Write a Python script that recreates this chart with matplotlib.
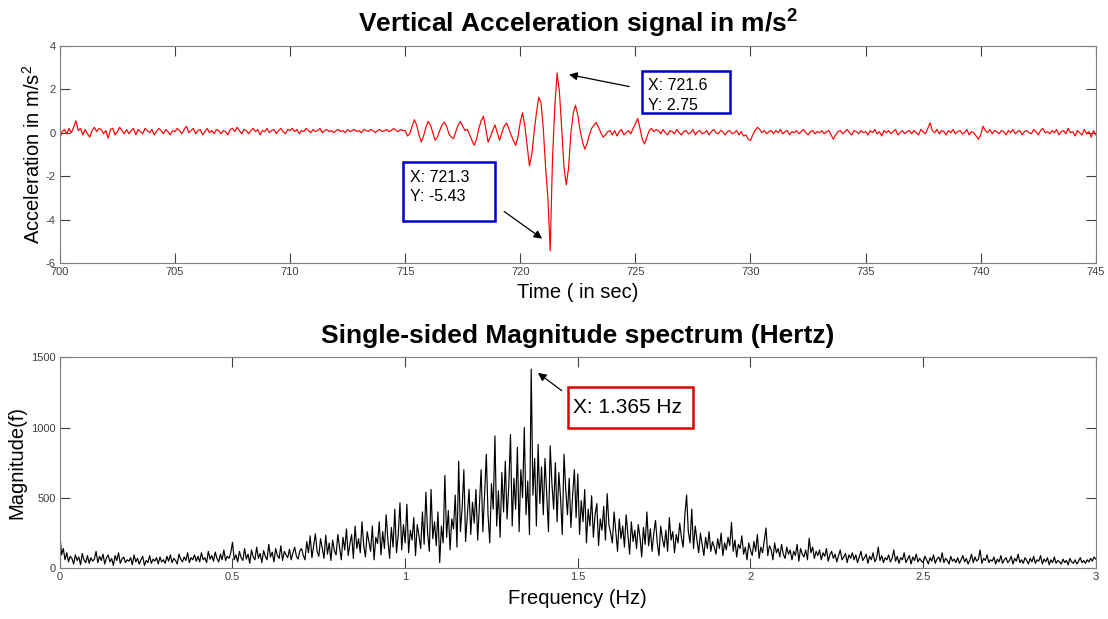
import numpy as np
import matplotlib
matplotlib.use('Agg')
from matplotlib import pyplot as plt
from matplotlib.patches import Rectangle

plt.rcParams['font.family'] = ['Liberation Sans', 'DejaVu Sans']
plt.rcParams['mathtext.fontset'] = 'custom'
plt.rcParams['mathtext.rm'] = 'Liberation Sans'
plt.rcParams['mathtext.bf'] = 'Liberation Sans:bold'
plt.rcParams['axes.unicode_minus'] = False

# acceleration signal, one value every 0.1 s from 700 s to 745 s
accel = [
    -0.25, 0.05, 0.15, -0.05, 0.2, 0.0, 0.25, 0.55, 0.1, 0.2,
    -0.1, 0.15, -0.05, -0.2, 0.1, 0.25, 0.05, 0.2, 0.15, -0.05,
    0.1, -0.25, 0.15, 0.2, -0.1, 0.05, 0.25, 0.1, -0.05, 0.15,
    -0.05, 0.1, 0.2, -0.1, 0.15, 0.05, -0.05, 0.2, 0.1, 0.0,
    0.15, -0.1, 0.05, 0.2, 0.1, -0.05, 0.15, 0.05, -0.1, 0.1,
    0.05, 0.2, 0.1, -0.05, 0.15, 0.3, 0.0, 0.1, 0.2, -0.05,
    0.1, 0.15, -0.1, 0.05, 0.2, 0.0, 0.1, -0.05, 0.15, 0.1,
    -0.05, 0.1, 0.05, -0.1, 0.15, 0.2, 0.05, 0.25, 0.1, -0.05,
    0.15, 0.1, -0.05, 0.1, 0.2, 0.05, 0.15, -0.1, 0.1, 0.05,
    0.2, 0.0, 0.1, 0.15, -0.05, 0.1, 0.2, 0.05, -0.05, 0.15,
    0.1, 0.2, 0.05, 0.15, -0.05, 0.1, 0.05, 0.2, 0.1, 0.0,
    0.15, 0.05, 0.1, 0.2, 0.0, 0.1, 0.15, 0.05, 0.1, 0.0,
    0.1, 0.15, 0.05, 0.1, 0.0, 0.15, 0.05, 0.1, 0.15, 0.05,
    0.1, 0.0, 0.15, 0.1, 0.05, 0.15, 0.1, 0.0, 0.1, 0.15,
    0.05, 0.1, 0.15, 0.05, 0.1, 0.2, 0.1, 0.05, 0.15, 0.1,
    # 715 s: oscillations before the main event
    0.1, -0.15, -0.05, 0.3, 0.6, 0.35, -0.1, -0.43, -0.15, 0.25,
    0.52, 0.35, 0.0, -0.35, -0.2, 0.1, 0.35, 0.49, 0.3, -0.05,
    -0.2, -0.27, 0.05, 0.35, 0.52, 0.3, 0.1, 0.15, -0.1, -0.35,
    -0.58, -0.3, 0.2, 0.55, 0.76, 0.2, -0.43, -0.2, 0.1, 0.36,
    0.0, -0.35, 0.0, 0.3, 0.44, 0.2, -0.1, -0.35, -0.58, -0.2,
    0.5, 0.92, 0.3, -0.6, -1.53, -1.0, 0.0, 0.9, 1.63, 1.4,
    0.2, -1.6, -3.0, -5.43, -1.2, 1.2, 2.75, 1.9, 0.2, -1.6,
    -2.4, -1.6, 0.0, 0.9, 1.26, 0.8, 0.1, -0.4, -0.75, -0.5,
    -0.1, 0.2, 0.35, 0.47, 0.25, 0.0, -0.2, -0.1, 0.05, 0.1,
    -0.1, 0.1, -0.15, 0.05, 0.15, -0.1, 0.0, 0.1, -0.05, 0.2,
    0.4, 0.66, 0.2, -0.3, -0.52, -0.2, 0.1, 0.2, 0.05, 0.15,
    # 726 s onwards
    0.1, -0.05, 0.15, 0.0, -0.1, 0.1, 0.05, -0.05, 0.15, 0.0,
    -0.1, 0.05, 0.1, -0.05, 0.0, 0.15, -0.1, 0.05, 0.1, -0.05,
    0.0, 0.1, -0.1, 0.05, 0.15, 0.0, -0.05, 0.1, 0.05, -0.1,
    0.05, 0.1, -0.05, 0.0, 0.1, -0.1, 0.05, -0.15, -0.1, -0.3,
    -0.36, -0.1, 0.1, 0.25, 0.15, 0.0, 0.1, -0.05, 0.05, 0.1,
    -0.05, 0.1, 0.0, 0.15, -0.05, 0.05, 0.1, -0.1, 0.05, 0.0,
    0.1, -0.05, 0.05, 0.15, 0.0, -0.1, 0.05, 0.1, -0.05, 0.05,
    0.0, 0.1, -0.05, 0.05, 0.1, -0.1, -0.3, -0.1, 0.05, 0.1,
    -0.05, 0.05, 0.15, 0.0, -0.1, 0.1, 0.05, -0.05, 0.1, 0.0,
    0.05, -0.1, 0.1, 0.0, 0.15, -0.05, 0.05, -0.15, 0.1, 0.0,
    0.1, -0.05, 0.05, 0.15, -0.1, 0.0, 0.1, -0.05, 0.05, 0.1,
    -0.05, 0.1, 0.0, -0.1, 0.15, 0.05, -0.05, 0.2, 0.45, 0.1,
    0.0, 0.15, -0.05, 0.1, 0.05, -0.1, 0.1, 0.0, 0.15, -0.05,
    0.05, 0.1, -0.05, 0.0, 0.15, -0.1, 0.05, 0.0, -0.15, -0.3,
    -0.1, 0.3, 0.1, 0.0, 0.15, -0.05, 0.1, 0.05, -0.05, 0.1,
    0.05, -0.1, 0.1, 0.0, 0.15, -0.05, 0.05, 0.1, -0.1, 0.05,
    0.1, 0.0, -0.05, 0.15, 0.05, -0.1, 0.1, 0.2, 0.0, 0.05,
    -0.05, 0.1, 0.0, 0.15, -0.1, 0.05, 0.1, -0.05, 0.2, 0.0,
    0.05, -0.15, 0.1, 0.0, -0.1, 0.15, -0.05, 0.05, -0.2, 0.1,
    -0.1,
]
t = np.linspace(700, 745, len(accel))

# single-sided magnitude spectrum, one value every 0.005 Hz from 0 to 3 Hz
mag = [
    250, 95, 140, 60, 110, 45, 85, 70, 30, 95, 55, 80, 25, 105, 60, 40, 90, 35, 75, 50,
    65, 120, 40, 85, 55, 100, 30, 75, 95, 45, 70, 20, 90, 55, 110, 35, 65, 80, 40, 60,
    50, 75, 25, 95, 45, 70, 30, 60, 85, 20, 55, 40, 90, 35, 65, 50, 75, 30, 80, 45,
    60, 35, 85, 50, 95, 40, 70, 55, 30, 100, 65, 45, 80, 55, 110, 40, 75, 60, 95, 50,
    85, 45, 110, 60, 75, 40, 120, 65, 90, 50, 115, 70, 45, 100, 60, 130, 55, 85, 70, 110,
    185, 60, 95, 45, 120, 75, 55, 140, 65, 100, 35, 130, 80, 60, 150, 70, 105, 40, 125, 85,
    60, 170, 80, 115, 45, 140, 90, 70, 160, 55, 120, 95, 75, 135, 60, 110, 150, 85, 65, 125,
    140, 90, 60, 190, 110, 230, 75, 160, 245, 120, 85, 210, 140, 70, 235, 100, 180, 55, 200, 125,
    95, 240, 150, 60, 220, 130, 280, 90, 175, 240, 70, 300, 140, 210, 110, 330, 160, 80, 260, 190,
    120, 300, 60, 220, 175, 330, 95, 260, 140, 380, 200, 70, 290, 150, 420, 110, 240, 465, 130, 310,
    180, 455, 110, 270, 200, 360, 90, 310, 230, 140, 400, 170, 540, 250, 120, 560, 210, 330, 160, 400,
    40, 300, 180, 660, 220, 410, 130, 350, 280, 520, 150, 760, 260, 430, 700, 190, 380, 560, 240, 470,
    320, 560, 200, 450, 700, 260, 520, 810, 380, 180, 600, 420, 940, 300, 550, 220, 680, 400, 760, 350,
    580, 950, 300, 640, 420, 860, 260, 700, 500, 1000, 380, 620, 240, 1415, 520, 780, 300, 880, 460, 720,
    380, 780, 520, 260, 870, 600, 420, 750, 330, 680, 500, 240, 810, 560, 380, 640, 290, 520, 700, 360,
    670, 240, 480, 330, 560, 180, 420, 300, 515, 220, 380, 460, 160, 350, 270, 440, 200, 530, 310, 250,
    180, 400, 260, 120, 350, 210, 300, 150, 380, 240, 100, 330, 190, 270, 140, 310, 220, 80, 290, 170,
    400, 160, 280, 120, 250, 340, 180, 90, 300, 210, 150, 270, 120, 360, 200, 260, 110, 240, 180, 320,
    220, 150, 380, 520, 260, 180, 420, 140, 300, 200, 110, 250, 170, 90, 220, 140, 260, 120, 190, 150,
    100, 210, 140, 250, 90, 180, 130, 220, 160, 325, 120, 200, 80, 170, 140, 230, 100, 150, 60, 180,
    130, 90, 190, 120, 240, 70, 150, 110, 200, 286, 90, 160, 130, 60, 180, 110, 140, 80, 170, 100,
    70, 150, 100, 130, 60, 120, 90, 170, 50, 140, 100, 80, 130, 60, 213, 110, 150, 70, 120, 90,
    130, 60, 110, 85, 140, 50, 95, 120, 70, 100, 45, 90, 130, 60, 80, 105, 40, 95, 70, 110,
    60, 95, 40, 80, 120, 55, 75, 100, 35, 85, 60, 110, 45, 70, 150, 55, 90, 40, 75, 60,
    95, 45, 70, 130, 50, 85, 35, 75, 60, 110, 40, 65, 90, 30, 80, 55, 100, 45, 70, 50,
    40, 85, 60, 30, 75, 50, 95, 35, 65, 80, 45, 110, 40, 70, 55, 30, 85, 50, 65, 40,
    75, 35, 60, 90, 45, 70, 30, 55, 100, 40, 80, 50, 65, 130, 35, 70, 55, 95, 40, 60,
    50, 80, 30, 65, 45, 90, 35, 60, 75, 40, 55, 85, 30, 70, 50, 100, 40, 60, 35, 75,
    55, 30, 70, 45, 85, 35, 60, 50, 90, 30, 65, 45, 75, 25, 60, 40, 80, 35, 55, 45,
    30, 65, 40, 55, 25, 70, 45, 35, 60, 30, 50, 75, 40, 55, 35, 60, 45, 70, 50, 80,
    65,
]
f = np.linspace(0, 3, len(mag))

tick_col = '#404040'
spine_col = '#7f7f7f'


def datatip(ax, x0, y0, x1, y1, ec):
    # white box with coloured border, like a MATLAB data tip
    ax.add_patch(Rectangle((x0, y0), x1 - x0, y1 - y0, fc='white', ec=ec, lw=1.8,
                           zorder=5, clip_on=False))


fig = plt.figure(figsize=(11.08, 6.19), dpi=100)
ax1 = fig.add_axes([0.054, 0.575, 0.935, 0.351])
ax2 = fig.add_axes([0.054, 0.082, 0.935, 0.341])

# top: time signal
ax1.plot(t, accel, color='red', lw=0.85)
ax1.set_xlim(700, 745)
ax1.set_ylim(-6, 4)
ax1.set_xticks(np.arange(700, 746, 5))
ax1.set_yticks(np.arange(-6, 5, 2))
ax1.set_xlabel('Time ( in sec)', fontsize=14.5, labelpad=4)
ax1.set_ylabel(r'Acceleration in m/s$^2$', fontsize=14.5)
ax1.yaxis.set_label_coords(-0.0155, 0.5)
ax1.set_title(r'Vertical Acceleration signal in m/s$^{\bf{2}}$', fontsize=19, fontweight='bold', pad=10)

ax1.annotate('', xy=(722.0, 2.7), xytext=(724.85, 2.1),
             arrowprops=dict(arrowstyle='-|>', color='black', lw=0.9, mutation_scale=12))
datatip(ax1, 725.28, 0.9, 729.1, 2.84, '#0000cc')
ax1.text(725.55, 2.5, 'X: 721.6\nY: 2.75', fontsize=11.5, va='top', ha='left', linespacing=1.4, zorder=6)

ax1.annotate('', xy=(721.05, -4.95), xytext=(719.2, -3.55),
             arrowprops=dict(arrowstyle='-|>', color='black', lw=0.9, mutation_scale=12))
datatip(ax1, 714.9, -4.05, 718.9, -1.35, '#0000cc')
ax1.text(715.2, -1.7, 'X: 721.3\nY: -5.43', fontsize=11.5, va='top', ha='left', linespacing=1.4, zorder=6)

# bottom: spectrum
ax2.plot(f, mag, color='black', lw=0.85)
ax2.set_xlim(0, 3)
ax2.set_ylim(0, 1500)
ax2.set_xticks(np.arange(0, 3.01, 0.5))
ax2.set_xticklabels(['0', '0.5', '1', '1.5', '2', '2.5', '3'])
ax2.set_yticks([0, 500, 1000, 1500])
ax2.set_xlabel('Frequency (Hz)', fontsize=14.5, labelpad=5)
ax2.set_ylabel('Magnitude(f)', fontsize=14.5)
ax2.yaxis.set_label_coords(-0.032, 0.5)
ax2.set_title('Single-sided Magnitude spectrum (Hertz)', fontsize=19, fontweight='bold', pad=10)

ax2.annotate('', xy=(1.378, 1400), xytext=(1.46, 1250),
             arrowprops=dict(arrowstyle='-|>', color='black', lw=0.9, mutation_scale=12))
datatip(ax2, 1.471, 995, 1.833, 1287, '#dd0000')
ax2.text(1.487, 1140, 'X: 1.365 Hz', fontsize=15, va='center', ha='left', zorder=6)

for ax in (ax1, ax2):
    ax.tick_params(direction='in', top=True, right=True, length=7, width=0.8,
                   labelsize=8, colors=tick_col, pad=3)
    for s in ax.spines.values():
        s.set_color(spine_col)
        s.set_linewidth(0.8)

fig.savefig('out.png', dpi=100)
